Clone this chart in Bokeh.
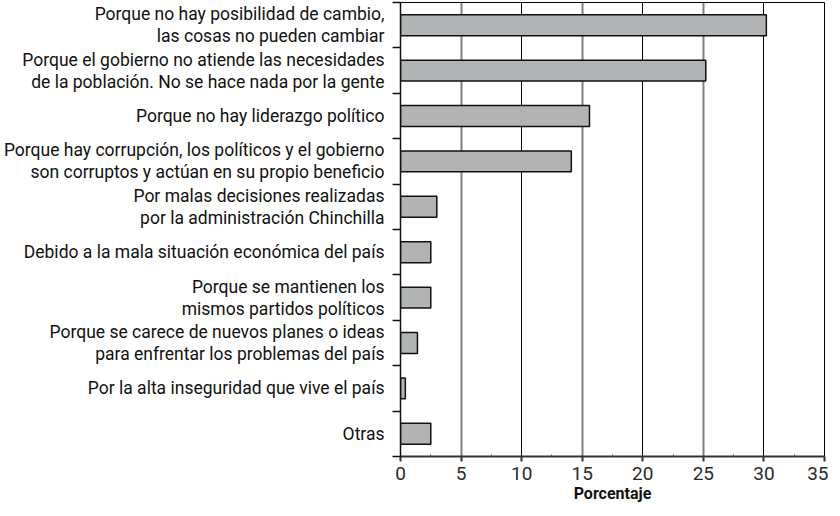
from bokeh.plotting import figure
from bokeh.models import Range1d, FixedTicker, Grid
from bokeh.embed import file_html
from bokeh.resources import INLINE

categories = [
    "Porque no hay posibilidad de cambio,\nlas cosas no pueden cambiar",
    "Porque el gobierno no atiende las necesidades\nde la población. No se hace nada por la gente",
    "Porque no hay liderazgo político",
    "Porque hay corrupción, los políticos y el gobierno\nson corruptos y actúan en su propio beneficio",
    "Por malas decisiones realizadas\npor la administración Chinchilla",
    "Debido a la mala situación económica del país",
    "Porque se mantienen los\nmismos partidos políticos",
    "Porque se carece de nuevos planes o ideas\npara enfrentar los problemas del país",
    "Por la alta inseguridad que vive el país",
    "Otras",
]
values = [30.2, 25.2, 15.6, 14.1, 3.0, 2.5, 2.5, 1.4, 0.4, 2.5]
x_ticks = [0, 5, 10, 15, 20, 25, 30, 35]

n = len(categories)
ycent = [n - i - 0.5 for i in range(n)]

p = figure(width=828, height=508, output_backend="svg", toolbar_location=None,
           x_range=Range1d(0, 35), y_range=Range1d(0, n),
           min_border_left=400, min_border_right=4, min_border_top=2, min_border_bottom=52)

p.hbar(y=ycent, right=values, left=0, height=0.46,
       fill_color="#b1b3b5", line_color="#111111", line_width=1.5)

# grids
p.ygrid.visible = False
p.xgrid.ticker = FixedTicker(ticks=[10, 20, 30])
p.xgrid.grid_line_color = "#000000"
p.xgrid.grid_line_width = 1
g2 = Grid(dimension=0, ticker=FixedTicker(ticks=[5, 15, 25]),
          grid_line_color="#7f7f7f", grid_line_width=2)
p.add_layout(g2)
g3 = Grid(dimension=0, ticker=FixedTicker(ticks=[35]),
          grid_line_color="#555555", grid_line_width=3)
p.add_layout(g3)

p.outline_line_color = "#000000"
p.outline_line_width = 1

# x axis
xa = p.xaxis[0]
xa.ticker = FixedTicker(ticks=x_ticks, minor_ticks=[2.5 + 5 * k for k in range(7)])
xa.axis_label = "Porcentaje"
xa.axis_label_text_font = "Roboto"
xa.axis_label_text_font_style = "bold"
xa.axis_label_text_font_size = "16px"
xa.axis_label_text_color = "#111111"
xa.axis_label_standoff = 1
xa.major_label_text_font = "Roboto"
xa.major_label_text_font_size = "19px"
xa.major_label_text_color = "#2a2a2a"
xa.major_label_standoff = 5
xa.axis_line_color = "#333333"
xa.axis_line_width = 2
xa.major_tick_out = 5
xa.major_tick_in = 0
xa.major_tick_line_color = "#333333"
xa.major_tick_line_width = 2
xa.minor_tick_out = 0
xa.minor_tick_in = 2
xa.minor_tick_line_color = "#555555"

# y axis
ya = p.yaxis[0]
ya.ticker = FixedTicker(ticks=ycent, minor_ticks=list(range(n + 1)))
ya.major_label_overrides = {yc: c for yc, c in zip(ycent, categories)}
ya.major_tick_out = 0
ya.major_tick_in = 0
ya.minor_tick_out = 8
ya.minor_tick_in = 0
ya.minor_tick_line_color = "#111111"
ya.minor_tick_line_width = 1.5
ya.axis_line_color = "#111111"
ya.axis_line_width = 1.5
ya.major_label_text_font = "Roboto"
ya.major_label_text_font_size = "17.5px"
ya.major_label_text_line_height = 1.1
ya.major_label_text_color = "#111111"
ya.major_label_standoff = 8

open("out.html", "w").write(file_html(p, INLINE))
